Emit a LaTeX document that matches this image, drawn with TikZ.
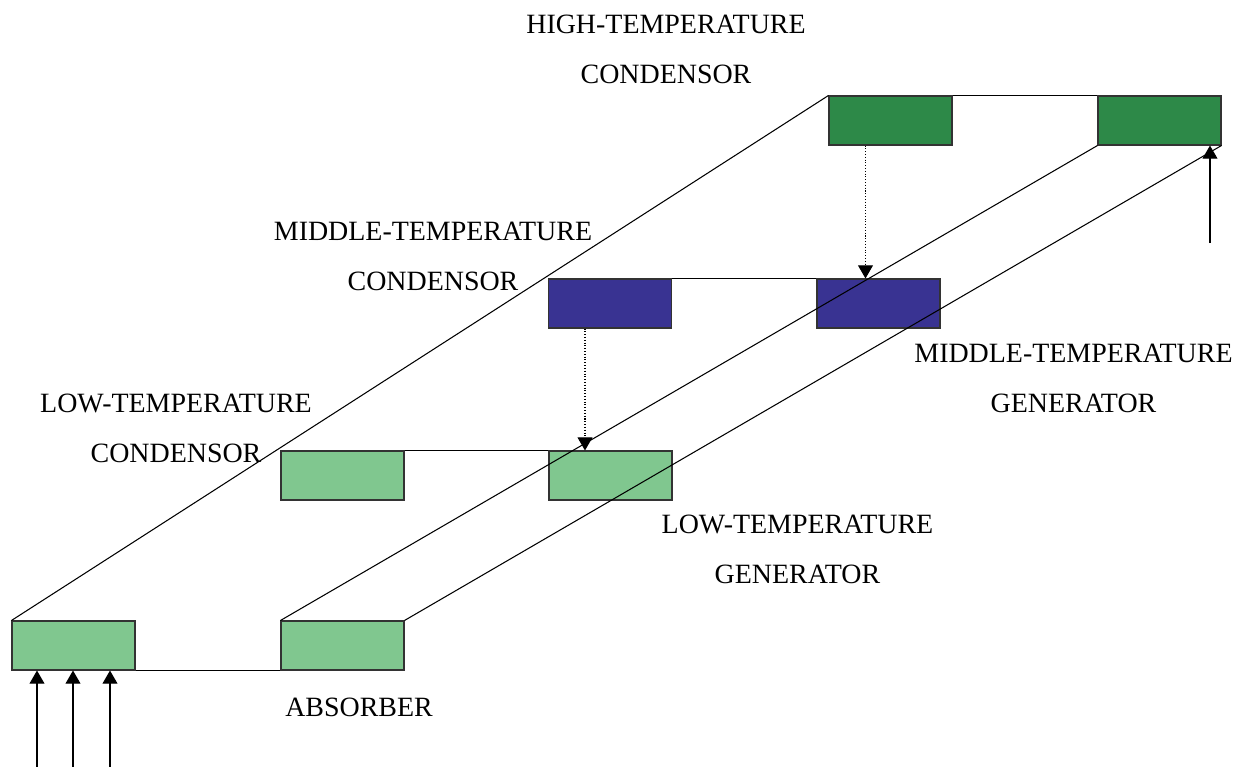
\documentclass[tikz,border=0pt]{standalone}
\usepackage{fontspec}
\setmainfont{Liberation Serif}
\usetikzlibrary{arrows.meta,calc}
\definecolor{hotgreen}{RGB}{45,137,72}
\definecolor{midblue}{RGB}{57,51,146}
\definecolor{coolgreen}{RGB}{128,199,143}

\begin{document}
\begin{tikzpicture}[x=0.02cm,y=-0.02cm,
  unit/.style={draw=black!80, line width=0.6pt, minimum width=2.46cm, minimum height=0.98cm, inner sep=0pt},
  lbl/.style={align=center, inner sep=0pt, font=\fontsize{15.9}{28.45}\selectfont},
  pipe/.style={line width=0.6pt},
  feed/.style={line width=0.6pt, -{Triangle[length=7.5pt,width=8.5pt]}},
  drip/.style={line width=0.6pt, densely dotted, -{Triangle[length=7.5pt,width=8.5pt]}}]
\useasboundingbox (0,0) rectangle (1252,767);
% units
\node[unit, fill=hotgreen] (htc) at (890.5,120.5) {};
\node[unit, fill=hotgreen] (htg) at (1159.5,120.5) {};
\node[unit, fill=midblue] (mtc) at (610,303.5) {};
\node[unit, fill=midblue] (mtg) at (878.5,303.5) {};
\node[unit, fill=coolgreen] (ltc) at (342.5,475.5) {};
\node[unit, fill=coolgreen] (ltg) at (610.5,475.5) {};
\node[unit, fill=coolgreen] (eva) at (73.5,645.5) {};
\node[unit, fill=coolgreen] (abs) at (342.5,645.5) {};
% labels
\node[lbl] (htclbl) at (666,49) {HIGH-TEMPERATURE\\CONDENSOR};
\node[lbl] (mtclbl) at (433,256) {MIDDLE-TEMPERATURE\\CONDENSOR};
\node[lbl] (ltclbl) at (176,428) {LOW-TEMPERATURE\\CONDENSOR};
\node[lbl] (mtglbl) at (1073.5,378) {MIDDLE-TEMPERATURE\\GENERATOR};
\node[lbl] (ltglbl) at (797.5,549) {LOW-TEMPERATURE\\GENERATOR};
\node[lbl] (abslbl) at (359,707.5) {ABSORBER};
% pipes
\draw[pipe] (htc.north east) -- (htg.north west);
\draw[pipe] (mtc.north east) -- (mtg.north west);
\draw[pipe] (ltc.north east) -- (ltg.north west);
\draw[pipe] (eva.south east) -- (abs.south west);
\draw[pipe] (htc.north west) -- (eva.north west);
\draw[pipe] (htg.south west) -- (abs.north west);
\draw[pipe] (htg.south east) -- (abs.north east);
% condensate
\coordinate (hdrop) at ($(htc.south west)+(37,0)$);
\draw[drip] (hdrop) -- (hdrop |- mtg.north);
\coordinate (mdrop) at ($(mtc.south west)+(37,0)$);
\draw[drip] (mdrop) -- (mdrop |- ltg.north);
% heat in
\coordinate (hin) at (1210,243);
\draw[feed] (hin) -- (hin |- htg.south);
\foreach \x in {37,73,110}{
  \coordinate (ein\x) at (\x,767);
  \draw[feed] (ein\x) -- (ein\x |- eva.south);
}
\end{tikzpicture}
\end{document}
